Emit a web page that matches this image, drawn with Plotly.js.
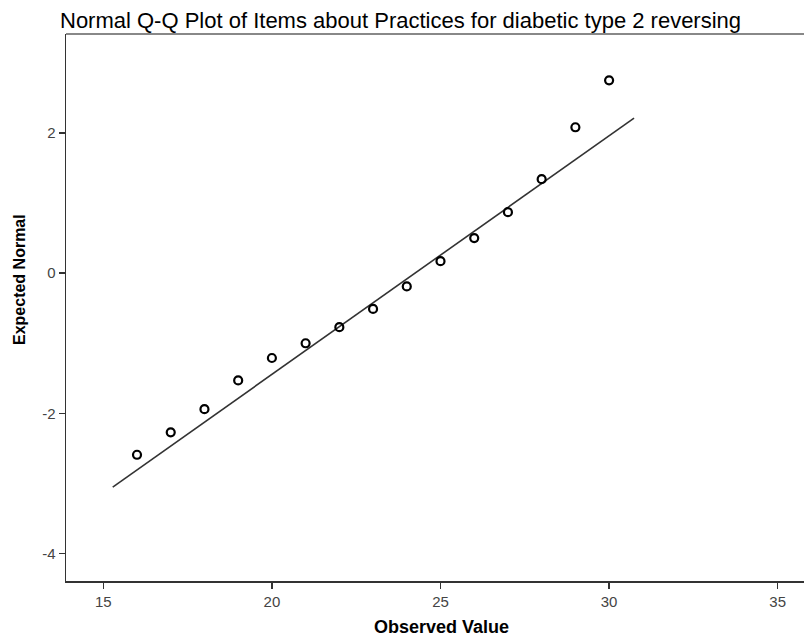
<!DOCTYPE html>
<html>
<head>
<meta charset="utf-8">
<script src="https://cdn.plot.ly/plotly-3.0.1.min.js"></script>
<style>
html,body{margin:0;padding:0;overflow:hidden;background:#fff;}
#chart{width:830px;height:640px;}
</style>
</head>
<body>
<div id="chart"></div>
<script>
// Data
const observedValues = [16, 17, 18, 19, 20, 21, 22, 23, 24, 25, 26, 27, 28, 29, 30];
const expectedNormal = [-2.59, -2.27, -1.94, -1.53, -1.21, -1.00, -0.77, -0.51, -0.19, 0.17, 0.50, 0.87, 1.34, 2.08, 2.75];
const refLineX = [15.28, 30.74];
const refLineY = [-3.05, 2.21];
const xTicks = [15, 20, 25, 30, 35];
const yTicks = [-4, -2, 0, 2];

const titleText = 'Normal Q-Q Plot of Items about Practices for diabetic type 2 reversing';
const xTitleText = 'Observed Value';
const yTitleText = 'Expected Normal';

const traces = [
  {
    x: refLineX, y: refLineY, type: 'scatter', mode: 'lines',
    line: {color: '#333333', width: 1.6}, hoverinfo: 'skip', showlegend: false
  },
  {
    x: observedValues, y: expectedNormal, type: 'scatter', mode: 'markers',
    marker: {symbol: 'circle-open', size: 8, color: '#000000', line: {color: '#000000', width: 2.2}},
    showlegend: false
  }
];

const W = 830, H = 640;
const L = 66, R = 26, T = 34, B = 59;
const pw = W - L - R, ph = H - T - B;

const layout = {
  width: W, height: H,
  margin: {l: L, r: R, t: T, b: B, pad: 0},
  paper_bgcolor: '#ffffff', plot_bgcolor: '#ffffff',
  font: {family: 'Liberation Sans, Arial, sans-serif', color: '#333333', size: 14},
  title: {
    text: titleText,
    font: {family: 'Liberation Sans, Arial, sans-serif', size: 22, color: '#000000'},
    xref: 'container', yref: 'container',
    x: 60 / W, xanchor: 'left', y: 1 - 20 / H, yanchor: 'middle'
  },
  xaxis: {
    range: [13.894, 35.78], tickmode: 'array', tickvals: xTicks, ticktext: xTicks.map(String),
    showgrid: false, zeroline: false, showline: true, linecolor: '#333333', linewidth: 1.5,
    ticks: 'outside', ticklen: 6, tickwidth: 1.5, tickcolor: '#333333',
    tickfont: {size: 15, color: '#444444'}
  },
  yaxis: {
    range: [-4.39, 3.41], tickmode: 'array', tickvals: yTicks, ticktext: yTicks.map(String),
    showgrid: false, zeroline: false, showline: true, linecolor: '#333333', linewidth: 1.5,
    ticks: 'outside', ticklen: 6, tickwidth: 1.5, tickcolor: '#333333',
    tickfont: {size: 15, color: '#444444'}
  },
  shapes: [
    {type: 'line', xref: 'paper', yref: 'paper', x0: 0, x1: 1, y0: 1, y1: 1,
     line: {color: '#888888', width: 2}}
  ],
  annotations: [
    {text: '<b>' + xTitleText + '</b>', xref: 'paper', yref: 'paper',
     x: (441 - L) / pw, y: -(627 - (H - B)) / ph, xanchor: 'center', yanchor: 'middle',
     showarrow: false, font: {size: 18, color: '#000000', family: 'Liberation Sans, Arial, sans-serif'}},
    {text: '<b>' + yTitleText + '</b>', xref: 'paper', yref: 'paper',
     x: (19 - L) / pw, y: ((H - B) - 280) / ph, xanchor: 'center', yanchor: 'middle',
     textangle: -90, showarrow: false,
     font: {size: 16, color: '#000000', family: 'Liberation Sans, Arial, sans-serif'}}
  ]
};

Plotly.newPlot('chart', traces, layout, {displayModeBar: false, staticPlot: true});
</script>
</body>
</html>
